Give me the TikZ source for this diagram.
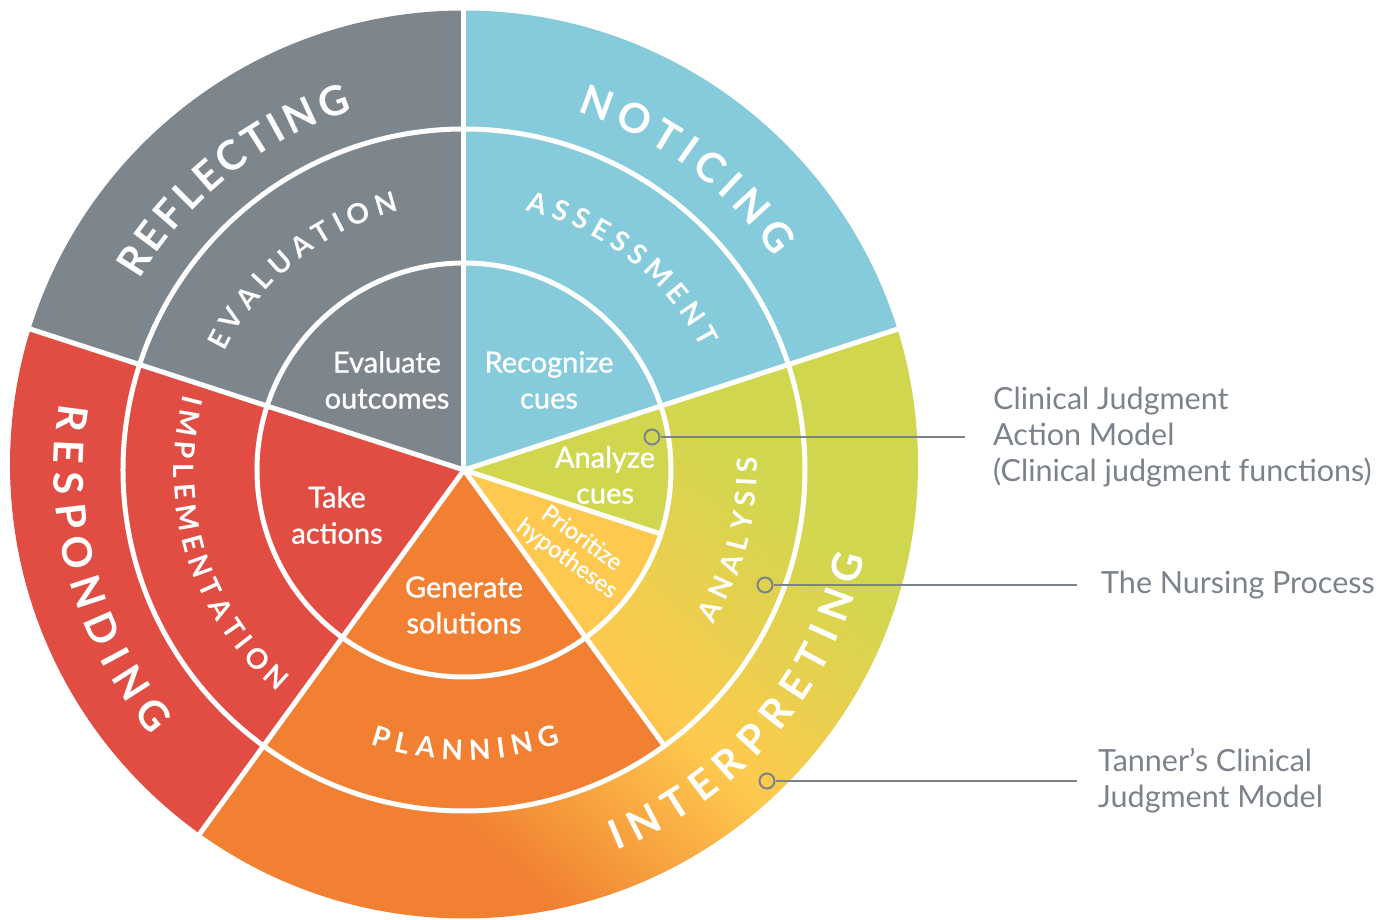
\documentclass[tikz,border=0pt]{standalone}
\usepackage{fontspec}
\setmainfont{Lato}
\newfontfamily\ringfont{Lato Bold}
\newfontfamily\cuefont{Lato}[FakeBold=1]
\usetikzlibrary{positioning,decorations.text}

\definecolor{cjblue}{HTML}{85CBDB}
\definecolor{cjgray}{HTML}{7E868D}
\definecolor{cjred}{HTML}{E14D43}
\definecolor{cjorange}{HTML}{F18032}
\definecolor{cjgreen}{HTML}{D0D74E}
\definecolor{cjyellow}{HTML}{FEC94E}
\definecolor{cjtext}{HTML}{7B828A}

% orange bottom left, yellow in the middle, green top right
\pgfdeclareverticalshading{interpshade}{100bp}{color(0bp)=(cjorange); color(37bp)=(cjorange); color(48bp)=(cjyellow); color(60bp)=(cjgreen); color(100bp)=(cjgreen)}

% pie slice: colour, from, to, radius
\newcommand{\cjslice}[4]{\fill[#1] (0,0) -- (#2:#4) arc[start angle=#2, end angle=#3, radius=#4] -- cycle;}
% letters along an arc: size, radius, from, to, word
\newcommand{\arcword}[5]{\path[decorate, decoration={text along path, text align={fit to path}, text color=white,
  text={|\ringfont\fontsize{#1}{#1}\selectfont|#5}}] (#3:#2) arc[start angle=#3, end angle=#4, radius=#2];}

\begin{document}
\begin{tikzpicture}[x=1pt, y=1pt,
  gap/.style={white, line width=5pt},
  cue/.style={text=white, align=center, font=\cuefont\fontsize{29}{36}\selectfont},
  pin/.style={circle, draw=cjtext, line width=2pt, minimum size=15pt, inner sep=0pt},
  pointer/.style={draw=cjtext, line width=2pt},
  note/.style={text=cjtext, align=left, inner sep=0pt, font=\fontsize{30.5}{36}\selectfont}]
\useasboundingbox (-464,-450) rectangle (929,470);

% the wheel
\begin{scope}
\clip (0,5.5) circle[radius=454];
\cjslice{cjblue}{18}{90}{600}
\cjslice{cjgray}{90}{162}{600}
\cjslice{cjred}{162}{234}{600}
\begin{scope}
\clip (0,0) -- (234:600) arc[start angle=234, end angle=378, radius=600] -- cycle;
\shade[shading=interpshade, shading angle=-43] (-500,-500) rectangle (500,500);
\end{scope}
\cjslice{cjorange}{234}{306}{341}
\cjslice{cjyellow}{306}{342}{207}
\cjslice{cjgreen}{342}{378}{207}
\end{scope}

\draw[gap] (0,0) circle[radius=207] (0,0) circle[radius=341];
\foreach \a in {18,90,162,234} \draw[gap] (0,0) -- (\a:470);
\draw[gap] (0,0) -- (-54:341);
\draw[gap] (0,0) -- (-18:207);

% ring titles
\arcword{41}{376}{72.5}{34.5}{NOTICING}
\arcword{41}{376}{149.6}{107.3}{REFLECTING}
\arcword{41}{410}{170.7}{220.3}{RESPONDING}
\arcword{41}{410}{-68.2}{-12.2}{INTERPRETING}
\arcword{28}{267}{76.6}{27.1}{ASSESSMENT}
\arcword{28}{267}{153.7}{104.1}{EVALUATION}
\arcword{28}{290}{165}{230}{IMPLEMENTATION}
\arcword{28}{293}{-31.7}{2.6}{ANALYSIS}
\arcword{28}{290}{-108.8}{-70.6}{PLANNING}

% centre
\node[cue] (recognize) at (85,90) {Recognize\\cues};
\node[cue] (evaluate) at (-77,90) {Evaluate\\outcomes};
\node[cue] (analyze) at (141,-5) {Analyze\\cues};
\node[cue, font=\cuefont\fontsize{23.5}{25}\selectfont, rotate=-36] (prioritize) at (110,-79) {Prioritize\\hypotheses};
\node[cue] (generate) at (0,-135) {Generate\\solutions};
\node[cue] (take) at (-127,-45) {Take\\actions};

% call-outs
\node[pin] (pin1) at (188,33) {};
\coordinate (end1) at (501,33);
\node[note, right=28pt of end1] (actionmodel) {Clinical Judgment\\Action Model\\(Clinical judgment functions)};
\draw[pointer] (pin1) -- (end1);
\node[pin] (pin2) at (301,-115) {};
\coordinate (end2) at (613,-115);
\node[note, right=24pt of end2] (nursing) {The Nursing Process};
\draw[pointer] (pin2) -- (end2);
\node[pin] (pin3) at (303,-311) {};
\coordinate (end3) at (613,-311);
\node[note, right=21pt of end3] (tanner) {Tanner’s Clinical\\Judgment Model};
\draw[pointer] (pin3) -- (end3);
\end{tikzpicture}
\end{document}
